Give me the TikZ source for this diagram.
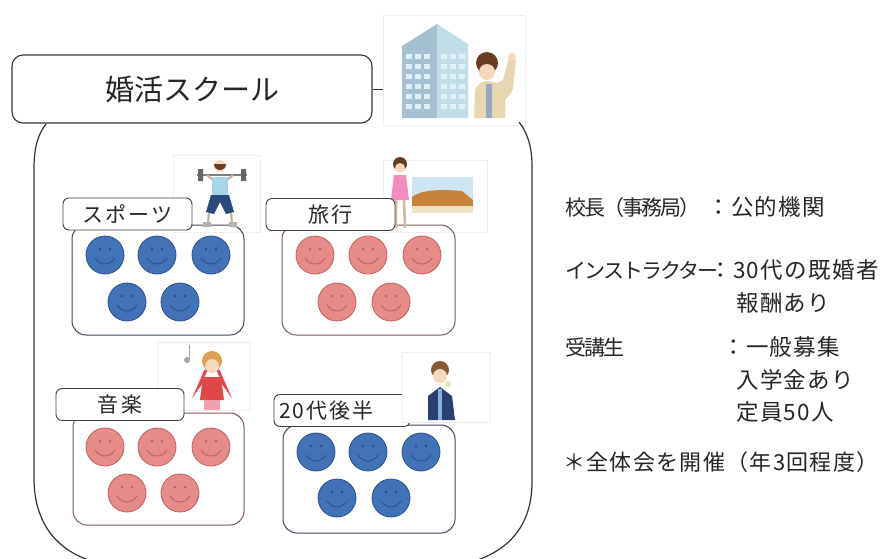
\documentclass[tikz,border=0pt]{standalone}
\usepackage{fontspec}
\setmainfont{Noto Sans CJK JP}
\newfontfamily\widejp[LetterSpace=6]{Noto Sans CJK JP}
\newfontfamily\narrowjp[LetterSpace=-9]{Noto Sans CJK JP}
\newfontfamily\tagjp[LetterSpace=10]{Noto Sans CJK JP}
\definecolor{slateline}{HTML}{3A4658}
\definecolor{roseline}{HTML}{7D5A5A}
\definecolor{faceblue}{HTML}{4272B8}
\definecolor{faceblueedge}{HTML}{2E5088}
\definecolor{facepink}{HTML}{E68A8A}
\definecolor{facepinkedge}{HTML}{BD6060}
\definecolor{skin}{HTML}{F6D9BC}
\definecolor{bldgside}{HTML}{A6C0D2}
\definecolor{bldgfront}{HTML}{C2DCE8}
\definecolor{bldgwin}{HTML}{DFF0F7}
\definecolor{hairbrown}{HTML}{6A3C22}
\definecolor{hairlight}{HTML}{8A5A30}
\definecolor{hairblond}{HTML}{E0A050}
\definecolor{navy}{HTML}{2B3F6E}
\definecolor{beigeshirt}{HTML}{E6D6B2}
\definecolor{tiestripe}{HTML}{9AA6C6}
\definecolor{lightshirt}{HTML}{A8D4E8}
\definecolor{shorts}{HTML}{2A4A7E}
\definecolor{sky}{HTML}{CFE6F2}
\definecolor{earth}{HTML}{C8823A}
\definecolor{sand}{HTML}{ECE2C4}
\definecolor{pinkdress}{HTML}{F48CC0}
\definecolor{redtop}{HTML}{E04848}
\definecolor{pinkskirt}{HTML}{F0A0B0}
\definecolor{paleblue}{HTML}{8AB0E0}
% one smiling face: centre x, centre y, fill colour, edge colour
\newcommand{\smileface}[4]{%
  \fill[#3, draw=#4, line width=0.8pt] (#1,#2) circle[radius=19];
  \fill[#4] (#1-5,#2-6) circle[radius=1.5] (#1+5,#2-6) circle[radius=1.5];
  \draw[#4, line width=0.9pt] (#1-10,#2+3) .. controls (#1-5,#2+11) and (#1+5,#2+11) .. (#1+10,#2+3);
}
\begin{document}
\begin{tikzpicture}[x=1pt,y=-1pt,
  title/.style={draw=black!80, line width=1.1pt, rounded corners=11pt, fill=white,
    minimum width=360pt, minimum height=68pt, inner sep=0pt, font=\fontsize{29}{30}\selectfont, text=black!85},
  tag/.style={draw=black!75, line width=0.9pt, rounded corners=6pt, fill=white, inner sep=0pt,
    minimum height=32pt, font=\tagjp\fontsize{21}{22}\selectfont, text=black!85},
  grpblue/.style={draw=slateline, line width=1pt, rounded corners=14pt, inner sep=0pt},
  grppink/.style={draw=roseline, line width=1pt, rounded corners=14pt, inner sep=0pt},
  imgframe/.style={draw=black!7, line width=0.6pt, inner sep=0pt},
  info/.style={anchor=base west, inner sep=0pt, font=\narrowjp\fontsize{21}{22}\selectfont, text=black!85},
  infowide/.style={info, font=\widejp\fontsize{22.5}{24}\selectfont},
  hull/.style={draw=black!80, line width=1.2pt},
]
\useasboundingbox[fill=white] (0,0) rectangle (886,558);

% picture frames
\node[imgframe, minimum width=142pt, minimum height=110pt] (bldg) at (454,70) {};
\node[imgframe, minimum width=87pt, minimum height=77pt] (fsport) at (216.5,193.5) {};
\node[imgframe, minimum width=104pt, minimum height=72pt] (ftravel) at (435,196) {};
\node[imgframe, minimum width=93pt, minimum height=68pt] (fmusic) at (203.5,376) {};

% outer school outline (open at the top)
\draw[hull] (46,124) .. controls (38,134) and (34,148) .. (34,168) -- (34,478)
  .. controls (34,528) and (62,556) .. (104,564);
\draw[hull] (519,122) .. controls (527,132) and (532,146) .. (532,166) -- (532,482)
  .. controls (532,528) and (506,554) .. (464,564);

% title and its link to the office picture
\node[title] (title) at (192,89) {婚活スクール};
\draw[black!80, line width=1pt] (title.east) -- (title.east -| bldg.west);

% office building with a waving man
\fill[bldgside] (402,46) -- (437,24) -- (437,118) -- (402,118) -- cycle;
\fill[bldgfront] (437,24) -- (468,44) -- (468,118) -- (437,118) -- cycle;
\foreach \y in {54,64,...,110} {
  \foreach \x in {406,415,424} { \fill[bldgwin] (\x,\y) rectangle (\x+6,\y+5); }
  \foreach \x in {441,450,459} { \fill[bldgwin] (\x,\y) rectangle (\x+6,\y+5); }
}
\fill[beigeshirt] (474,118) -- (475,92) .. controls (476,84) and (482,81) .. (488,81)
  -- (497,83) -- (503,80) -- (509,58) -- (516,60) -- (513,88)
  .. controls (511,96) and (506,98) .. (505,100) -- (505,118) -- cycle;
\fill[tiestripe] (486,84) rectangle (492,118);
\fill[skin] (512,57) circle[radius=4];
\fill[hairbrown] (487,63) circle[radius=11];
\fill[skin] (487,72) circle[radius=8];

% group boxes
\node[grpblue, minimum width=172pt, minimum height=110pt] (gsport) at (158,280) {};
\node[grppink, minimum width=173pt, minimum height=110pt] (gtravel) at (368.5,280) {};
\node[grppink, minimum width=171pt, minimum height=112pt] (gmusic) at (158.5,469) {};
\node[grpblue, minimum width=172pt, minimum height=108pt] (gyoung) at (369,479) {};

% faces
\foreach \x/\y in {105/255,157/255,211/255,127/302,180/302}
  { \smileface{\x}{\y}{faceblue}{faceblueedge} }
\foreach \x/\y in {315/255,368/255,422/255,337/302,391/302}
  { \smileface{\x}{\y}{facepink}{facepinkedge} }
\foreach \x/\y in {105/447,157/447,211/447,127/493,180/493}
  { \smileface{\x}{\y}{facepink}{facepinkedge} }
\foreach \x/\y in {316/452,368/452,421/452,337/498,391/498}
  { \smileface{\x}{\y}{faceblue}{faceblueedge} }

% weightlifter
\draw[gray, line width=1.2pt] (197,175) -- (247,175);
\fill[gray!80!black] (198,169) rectangle (203,181) (241,169) rectangle (246,181);
\draw[skin!80!black, line width=2pt] (213,180) -- (207,175) (227,180) -- (233,175);
\fill[skin] (220,166) circle[radius=6];
\fill[hairbrown] (214,164) arc[start angle=180, end angle=0, radius=6] -- cycle;
\fill[lightshirt] (212,177) rectangle (228,196);
\fill[shorts] (211,195) -- (229,195) -- (234,212) -- (226,214)
  -- (220,202) -- (214,214) -- (206,212) -- cycle;
\draw[skin!80!black, line width=2pt] (209,213) -- (208,222) (231,213) -- (232,222);
\fill[gray!60] (203,222) rectangle (211,227) (229,222) rectangle (237,227);

% traveller and landscape
\fill[sky] (412,177) rectangle (473,206);
\fill[earth] (412,197) .. controls (420,190) and (440,189) .. (462,191)
  -- (473,200) -- (473,206) -- (412,206) -- cycle;
\fill[sand] (412,206) rectangle (473,213);
\fill[hairbrown] (400,164) circle[radius=7];
\fill[skin] (400,168) circle[radius=5];
\fill[pinkdress] (394,175) -- (406,175) -- (409,200) -- (391,200) -- cycle;
\draw[skin!85!black, line width=2.5pt] (396,200) -- (396,228) (404,200) -- (405,228);

% singer
\fill[gray!70] (187,360) circle[radius=3];
\draw[gray!70, line width=1pt] (189.5,359) -- (189.5,345);
\fill[hairblond] (212,361) circle[radius=10];
\fill[skin] (212,366) circle[radius=7];
\fill[redtop] (203,377) -- (221,377) -- (224,400) -- (200,400) -- cycle;
\draw[redtop, line width=3pt] (204,379) -- (199,386) -- (206,370) (220,379) -- (225,386) -- (218,370);
\fill[pinkskirt] (204,400) rectangle (220,410);

% labels
\node[tag, minimum width=129pt] (lsport) at (127.5,214) {スポーツ};
\node[tag, minimum width=129pt] (ltravel) at (330.5,214.5) {旅行};
\node[tag, minimum width=128pt] (lmusic) at (120,404.5) {音楽};
\node[tag, minimum width=136pt, text width=126pt, align=left, inner xsep=5pt] (lyoung) at (342,410.5) {20代後半};

% man in a suit, his picture covering the label end
\node[imgframe, fill=white, minimum width=88pt, minimum height=70pt] (fyoung) at (446,387) {};
\fill[hairlight] (440,370) circle[radius=9];
\fill[skin] (440,376) circle[radius=7];
\fill[navy] (428,420) -- (428,396) -- (440,387) -- (452,396) -- (455,420) -- cycle;
\fill[paleblue] (438,389) rectangle (442,420);
\fill[skin] (448,384) circle[radius=3];

% notes on the right
\node[info] (head) at (565,215) {校長（事務局）};
\node[infowide] (headv) at (707,215) {：公的機関};
\node[info] (inst) at (565,278) {インストラクター};
\node[infowide] (instv) at (709,278) {：30代の既婚者};
\node[infowide] (instw) at (736,311) {報酬あり};
\node[info] (stud) at (565,355) {受講生};
\node[infowide] (studv) at (722,355) {：一般募集};
\node[infowide] (studw) at (736,388) {入学金あり};
\node[infowide] (studx) at (736,420) {定員50人};
\node[infowide, font=\widejp\fontsize{22}{24}\selectfont] (meet) at (563,470) {＊全体会を開催（年3回程度）};
\end{tikzpicture}
\end{document}
